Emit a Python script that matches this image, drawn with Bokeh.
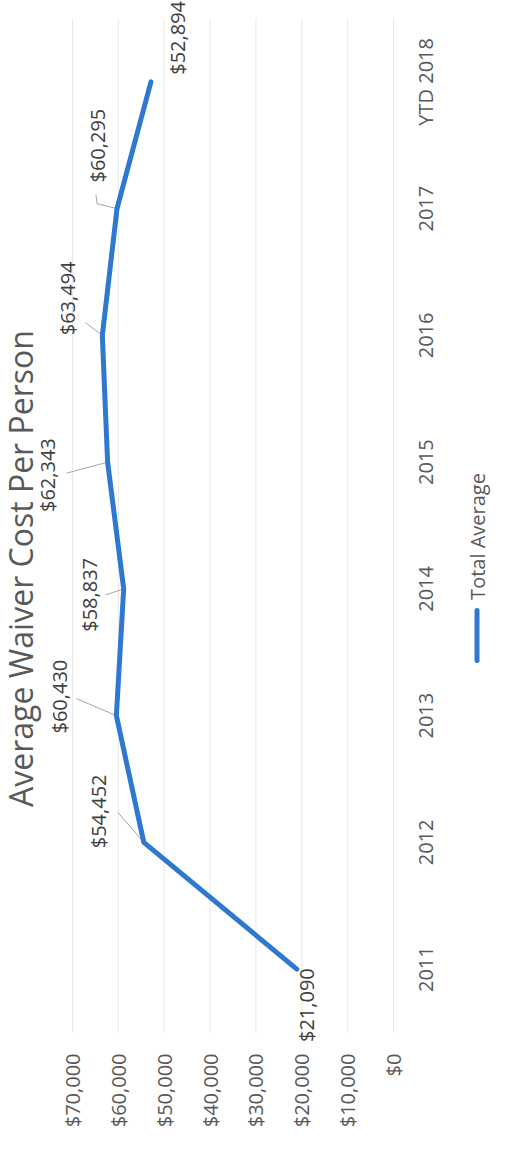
import math
from bokeh.plotting import figure
from bokeh.models import Range1d, ColumnDataSource, LabelSet, Label, Arrow
from bokeh.core.properties import value
from bokeh.embed import file_html
from bokeh.resources import INLINE

# ---- data ----
categories = ["2011", "2012", "2013", "2014", "2015", "2016", "2017", "YTD 2018"]
total_average = [21090, 54452, 60430, 58837, 62343, 63494, 60295, 52894]
value_ticks = [0, 10000, 20000, 30000, 40000, 50000, 60000, 70000]
value_tick_labels = ["$0", "$10,000", "$20,000", "$30,000", "$40,000", "$50,000", "$60,000", "$70,000"]
series_name = "Total Average"
title_text = "Average Waiver Cost Per Person"

# ---- style / layout (pixels) ----
W, H = 514, 1149
PL, PR, PT, PB = 72, 393, 18, 1032       # plot-area edges on the page
VMAX = 70000
BLUE = "#2e78d2"
FONT = "Open Sans"
GREY_TXT = "#595959"
LBL_TXT = "#404040"

n = len(categories)
idx = list(range(n))
kx = (PR - PL) / VMAX          # px per value unit
ky = (PB - PT) / n             # px per category step

x_range = Range1d(VMAX + PL / kx, -(W - PR) / kx)
y_range = Range1d(-0.5 - (H - PB) / ky, n - 0.5 + PT / ky)

p = figure(width=W, height=H, output_backend="svg", toolbar_location=None,
           x_range=x_range, y_range=y_range, title=None,
           min_border=0, min_border_left=0, min_border_right=0,
           min_border_top=0, min_border_bottom=0)
p.axis.visible = False
p.grid.visible = False
p.outline_line_color = None
p.background_fill_color = "white"
p.border_fill_color = "white"

# gridlines at the value ticks
p.segment(x0=value_ticks, y0=-0.5, x1=value_ticks, y1=n - 0.5,
          line_color="#e8e8e8", line_width=1)

# value-axis tick labels (rotated, ending just below the plot area)
tsrc = ColumnDataSource(dict(x=value_ticks, y=[-0.5] * len(value_ticks), text=value_tick_labels))
p.add_layout(LabelSet(x="x", y="y", text="text", source=tsrc, y_offset=-21,
                      angle=math.pi / 2, text_align="right", text_baseline="middle",
                      text_font=value(FONT), text_font_size=value("20px"),
                      text_color=GREY_TXT))

# category labels (rotated, to the right of the plot area)
csrc = ColumnDataSource(dict(x=[0] * n, y=idx, text=categories))
p.add_layout(LabelSet(x="x", y="y", text="text", source=csrc, x_offset=32,
                      angle=math.pi / 2, text_align="center", text_baseline="middle",
                      text_font=value(FONT), text_font_size=value("20px"),
                      text_color=GREY_TXT))

# leader lines (pixel offsets from the point, converted to data units)
leader_px = {
    1: [(-26, -30), (0, 0)],
    2: [(-40, -17), (0, 0)],
    3: [(-18, 6), (0, 0)],
    4: [(-41, 11), (0, 0)],
    5: [(-17, -13), (0, 0)],
    6: [(-21, -14), (-20, -5), (0, 0)],
}
lxs, lys = [], []
for i, pts in leader_px.items():
    lxs.append([total_average[i] - dx / kx for dx, dy in pts])
    lys.append([idx[i] - dy / ky for dx, dy in pts])
p.multi_line(lxs, lys, line_color="#a6a6a6", line_width=1)

# series line
p.line(total_average, idx, line_color=BLUE, line_width=5, line_join="round", line_cap="round")

# data labels
label_off = [(10, 36), (-45, -31), (-57, -19), (-34, 6), (-60, 13), (-35, -37), (-20, -63), (27, -44)]
src = ColumnDataSource(dict(
    x=total_average, y=idx,
    text=["${:,}".format(v) for v in total_average],
    xo=[o[0] for o in label_off], yo=[-o[1] for o in label_off],
))
p.add_layout(LabelSet(x="x", y="y", text="text", source=src, x_offset="xo", y_offset="yo",
                      angle=math.pi / 2, text_align="center", text_baseline="middle",
                      text_font=value(FONT), text_font_size=value("20px"),
                      text_color=LBL_TXT))

# title (rotated)
p.add_layout(Label(x=20, y=H - 568, x_units="screen", y_units="screen",
                   text=title_text, angle=math.pi / 2, text_align="center",
                   text_baseline="middle", text_font=FONT, text_font_size="32px",
                   text_color=GREY_TXT))

# legend (rotated)
p.add_layout(Label(x=477, y=H - 536, x_units="screen", y_units="screen",
                   text=series_name, angle=math.pi / 2, text_align="center",
                   text_baseline="middle", text_font=FONT, text_font_size="20px",
                   text_color=GREY_TXT))
p.add_layout(Arrow(end=None, x_start=476.5, y_start=H - 610, x_end=476.5, y_end=H - 660,
                   start_units="screen", end_units="screen",
                   line_color=BLUE, line_width=5, line_cap="round"))

open("out.html", "w").write(file_html(p, INLINE))
